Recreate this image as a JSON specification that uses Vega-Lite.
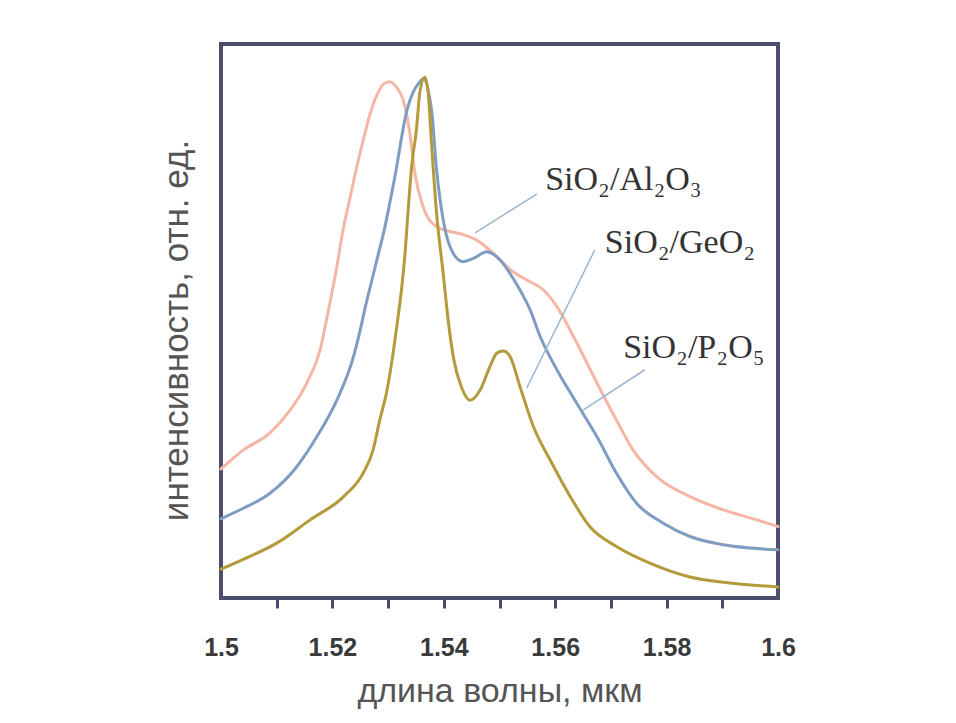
{
  "$schema": "https://vega.github.io/schema/vega-lite/v6.json",
  "autosize": {"type": "none"},
  "padding": {"left": 221, "top": 44, "right": 178, "bottom": 125},
  "width": 557,
  "height": 554,
  "background": "white",
  "datasets": {
    "curves": [
      {"s": "SiO2/Al2O3", "x": 1.5, "y": 23.3},
      {"s": "SiO2/Al2O3", "x": 1.504, "y": 26.7},
      {"s": "SiO2/Al2O3", "x": 1.5088, "y": 29.8},
      {"s": "SiO2/Al2O3", "x": 1.5124, "y": 33.9},
      {"s": "SiO2/Al2O3", "x": 1.5154, "y": 38.8},
      {"s": "SiO2/Al2O3", "x": 1.5178, "y": 44.8},
      {"s": "SiO2/Al2O3", "x": 1.5193, "y": 52.0},
      {"s": "SiO2/Al2O3", "x": 1.5208, "y": 59.8},
      {"s": "SiO2/Al2O3", "x": 1.5219, "y": 66.4},
      {"s": "SiO2/Al2O3", "x": 1.5232, "y": 72.4},
      {"s": "SiO2/Al2O3", "x": 1.5244, "y": 77.9},
      {"s": "SiO2/Al2O3", "x": 1.5255, "y": 82.5},
      {"s": "SiO2/Al2O3", "x": 1.5268, "y": 87.5},
      {"s": "SiO2/Al2O3", "x": 1.528, "y": 90.8},
      {"s": "SiO2/Al2O3", "x": 1.5292, "y": 92.8},
      {"s": "SiO2/Al2O3", "x": 1.5303, "y": 93.2},
      {"s": "SiO2/Al2O3", "x": 1.5315, "y": 92.2},
      {"s": "SiO2/Al2O3", "x": 1.5327, "y": 89.9},
      {"s": "SiO2/Al2O3", "x": 1.5339, "y": 83.9},
      {"s": "SiO2/Al2O3", "x": 1.5348, "y": 76.7},
      {"s": "SiO2/Al2O3", "x": 1.5363, "y": 70.6},
      {"s": "SiO2/Al2O3", "x": 1.5387, "y": 67.0},
      {"s": "SiO2/Al2O3", "x": 1.541, "y": 66.2},
      {"s": "SiO2/Al2O3", "x": 1.5435, "y": 65.6},
      {"s": "SiO2/Al2O3", "x": 1.5459, "y": 64.6},
      {"s": "SiO2/Al2O3", "x": 1.5489, "y": 62.2},
      {"s": "SiO2/Al2O3", "x": 1.552, "y": 59.2},
      {"s": "SiO2/Al2O3", "x": 1.5549, "y": 57.4},
      {"s": "SiO2/Al2O3", "x": 1.5579, "y": 55.6},
      {"s": "SiO2/Al2O3", "x": 1.5603, "y": 52.6},
      {"s": "SiO2/Al2O3", "x": 1.5639, "y": 46.0},
      {"s": "SiO2/Al2O3", "x": 1.5675, "y": 38.8},
      {"s": "SiO2/Al2O3", "x": 1.571, "y": 32.1},
      {"s": "SiO2/Al2O3", "x": 1.574, "y": 26.7},
      {"s": "SiO2/Al2O3", "x": 1.5782, "y": 21.9},
      {"s": "SiO2/Al2O3", "x": 1.5842, "y": 18.3},
      {"s": "SiO2/Al2O3", "x": 1.5902, "y": 15.9},
      {"s": "SiO2/Al2O3", "x": 1.5962, "y": 14.1},
      {"s": "SiO2/Al2O3", "x": 1.6, "y": 12.9},

      {"s": "SiO2/P2O5", "x": 1.5, "y": 14.3},
      {"s": "SiO2/P2O5", "x": 1.504, "y": 16.2},
      {"s": "SiO2/P2O5", "x": 1.5088, "y": 18.9},
      {"s": "SiO2/P2O5", "x": 1.5136, "y": 23.7},
      {"s": "SiO2/P2O5", "x": 1.5172, "y": 29.1},
      {"s": "SiO2/P2O5", "x": 1.5208, "y": 35.7},
      {"s": "SiO2/P2O5", "x": 1.5238, "y": 43.6},
      {"s": "SiO2/P2O5", "x": 1.525, "y": 48.4},
      {"s": "SiO2/P2O5", "x": 1.526, "y": 52.9},
      {"s": "SiO2/P2O5", "x": 1.5271, "y": 57.4},
      {"s": "SiO2/P2O5", "x": 1.5282, "y": 61.9},
      {"s": "SiO2/P2O5", "x": 1.5293, "y": 66.4},
      {"s": "SiO2/P2O5", "x": 1.5303, "y": 71.3},
      {"s": "SiO2/P2O5", "x": 1.5315, "y": 77.6},
      {"s": "SiO2/P2O5", "x": 1.5324, "y": 83.0},
      {"s": "SiO2/P2O5", "x": 1.5333, "y": 87.7},
      {"s": "SiO2/P2O5", "x": 1.5345, "y": 91.3},
      {"s": "SiO2/P2O5", "x": 1.5354, "y": 92.8},
      {"s": "SiO2/P2O5", "x": 1.5363, "y": 93.7},
      {"s": "SiO2/P2O5", "x": 1.5378, "y": 88.1},
      {"s": "SiO2/P2O5", "x": 1.5387, "y": 77.3},
      {"s": "SiO2/P2O5", "x": 1.5399, "y": 68.2},
      {"s": "SiO2/P2O5", "x": 1.5417, "y": 62.2},
      {"s": "SiO2/P2O5", "x": 1.5435, "y": 60.7},
      {"s": "SiO2/P2O5", "x": 1.5453, "y": 61.3},
      {"s": "SiO2/P2O5", "x": 1.5477, "y": 62.5},
      {"s": "SiO2/P2O5", "x": 1.5501, "y": 61.0},
      {"s": "SiO2/P2O5", "x": 1.5525, "y": 57.6},
      {"s": "SiO2/P2O5", "x": 1.554, "y": 55.0},
      {"s": "SiO2/P2O5", "x": 1.5555, "y": 52.0},
      {"s": "SiO2/P2O5", "x": 1.5573, "y": 47.2},
      {"s": "SiO2/P2O5", "x": 1.5603, "y": 41.2},
      {"s": "SiO2/P2O5", "x": 1.5639, "y": 35.1},
      {"s": "SiO2/P2O5", "x": 1.5675, "y": 29.1},
      {"s": "SiO2/P2O5", "x": 1.571, "y": 22.5},
      {"s": "SiO2/P2O5", "x": 1.5746, "y": 17.1},
      {"s": "SiO2/P2O5", "x": 1.5794, "y": 13.5},
      {"s": "SiO2/P2O5", "x": 1.5842, "y": 11.1},
      {"s": "SiO2/P2O5", "x": 1.5902, "y": 9.6},
      {"s": "SiO2/P2O5", "x": 1.6, "y": 8.7},

      {"s": "SiO2/GeO2", "x": 1.5, "y": 5.2},
      {"s": "SiO2/GeO2", "x": 1.5052, "y": 7.5},
      {"s": "SiO2/GeO2", "x": 1.51, "y": 9.9},
      {"s": "SiO2/GeO2", "x": 1.516, "y": 14.1},
      {"s": "SiO2/GeO2", "x": 1.522, "y": 18.3},
      {"s": "SiO2/GeO2", "x": 1.5255, "y": 22.5},
      {"s": "SiO2/GeO2", "x": 1.5273, "y": 26.7},
      {"s": "SiO2/GeO2", "x": 1.5285, "y": 32.1},
      {"s": "SiO2/GeO2", "x": 1.5297, "y": 37.0},
      {"s": "SiO2/GeO2", "x": 1.5309, "y": 44.2},
      {"s": "SiO2/GeO2", "x": 1.5316, "y": 49.3},
      {"s": "SiO2/GeO2", "x": 1.5324, "y": 55.6},
      {"s": "SiO2/GeO2", "x": 1.533, "y": 61.7},
      {"s": "SiO2/GeO2", "x": 1.5336, "y": 70.0},
      {"s": "SiO2/GeO2", "x": 1.5342, "y": 77.6},
      {"s": "SiO2/GeO2", "x": 1.5351, "y": 84.7},
      {"s": "SiO2/GeO2", "x": 1.5357, "y": 91.3},
      {"s": "SiO2/GeO2", "x": 1.5366, "y": 94.0},
      {"s": "SiO2/GeO2", "x": 1.5372, "y": 91.2},
      {"s": "SiO2/GeO2", "x": 1.5378, "y": 82.0},
      {"s": "SiO2/GeO2", "x": 1.5387, "y": 69.5},
      {"s": "SiO2/GeO2", "x": 1.5399, "y": 58.5},
      {"s": "SiO2/GeO2", "x": 1.5408, "y": 50.0},
      {"s": "SiO2/GeO2", "x": 1.5418, "y": 43.0},
      {"s": "SiO2/GeO2", "x": 1.5432, "y": 38.0},
      {"s": "SiO2/GeO2", "x": 1.5447, "y": 35.7},
      {"s": "SiO2/GeO2", "x": 1.5465, "y": 37.5},
      {"s": "SiO2/GeO2", "x": 1.5483, "y": 41.8},
      {"s": "SiO2/GeO2", "x": 1.5495, "y": 44.2},
      {"s": "SiO2/GeO2", "x": 1.5507, "y": 44.6},
      {"s": "SiO2/GeO2", "x": 1.5519, "y": 43.6},
      {"s": "SiO2/GeO2", "x": 1.5537, "y": 38.1},
      {"s": "SiO2/GeO2", "x": 1.5561, "y": 30.9},
      {"s": "SiO2/GeO2", "x": 1.5591, "y": 24.9},
      {"s": "SiO2/GeO2", "x": 1.5627, "y": 18.3},
      {"s": "SiO2/GeO2", "x": 1.5662, "y": 12.9},
      {"s": "SiO2/GeO2", "x": 1.571, "y": 9.3},
      {"s": "SiO2/GeO2", "x": 1.577, "y": 6.3},
      {"s": "SiO2/GeO2", "x": 1.5842, "y": 3.8},
      {"s": "SiO2/GeO2", "x": 1.5914, "y": 2.7},
      {"s": "SiO2/GeO2", "x": 1.6, "y": 2.0}
    ],
    "labels": [
      {"text": "SiO₂/Al₂O₃", "x": 1.5582, "y": 73.6, "x1": 1.5567, "y1": 72.9, "x2": 1.5456, "y2": 65.9},
      {"text": "SiO₂/GeO₂", "x": 1.5689, "y": 62.3, "x1": 1.5671, "y1": 62.8, "x2": 1.5549, "y2": 37.9},
      {"text": "SiO₂/P₂O₅", "x": 1.5722, "y": 43.3, "x1": 1.5761, "y1": 41.2, "x2": 1.565, "y2": 33.9}
    ]
  },
  "layer": [
    {
      "data": {"name": "curves"},
      "mark": {"type": "line", "interpolate": "monotone", "strokeWidth": 3, "strokeJoin": "round", "strokeCap": "round"},
      "encoding": {
        "x": {
          "field": "x", "type": "quantitative",
          "scale": {"domain": [1.5, 1.6], "nice": false, "zero": false},
          "axis": {
            "values": [1.5, 1.51, 1.52, 1.53, 1.54, 1.55, 1.56, 1.57, 1.58, 1.59, 1.6],
            "format": "~g",
            "labelExpr": "abs(round(datum.value * 100)) % 2 == 0 ? datum.label : ''",
            "labelFlush": false,
            "labelOverlap": false,
            "domain": false,
            "grid": false,
            "tickSize": 10,
            "tickWidth": 3,
            "tickColor": "#4b4d6a",
            "tickOpacity": {"condition": {"test": "datum.value < 1.505 || datum.value > 1.595", "value": 0}, "value": 1},
            "labelFont": "Liberation Sans",
            "labelFontWeight": "bold",
            "labelFontSize": 25,
            "labelColor": "#3a3a3a",
            "labelPadding": 27,
            "title": "длина волны, мкм",
            "titleFont": "Liberation Sans",
            "titleFontSize": 34,
            "titleFontWeight": "normal",
            "titleColor": "#555555",
            "titlePadding": 14
          }
        },
        "y": {
          "field": "y", "type": "quantitative",
          "scale": {"domain": [0, 100], "nice": false},
          "axis": {
            "labels": false,
            "ticks": false,
            "domain": false,
            "grid": false,
            "title": "интенсивность, отн. ед.",
            "titleFont": "Liberation Sans",
            "titleFontSize": 35,
            "titleFontWeight": "normal",
            "titleColor": "#555555",
            "titlePadding": 27,
            "titleY": 286
          }
        },
        "color": {
          "field": "s", "type": "nominal",
          "scale": {"domain": ["SiO2/Al2O3", "SiO2/P2O5", "SiO2/GeO2"], "range": ["#f5b6a6", "#7f9dc2", "#b39a3a"]},
          "legend": null
        }
      }
    },
    {
      "data": {"name": "labels"},
      "mark": {"type": "rule", "color": "#9bb5d0", "strokeWidth": 1.5},
      "encoding": {
        "x": {"field": "x1", "type": "quantitative"},
        "y": {"field": "y1", "type": "quantitative"},
        "x2": {"field": "x2"},
        "y2": {"field": "y2"}
      }
    },
    {
      "data": {"name": "labels"},
      "mark": {"type": "text", "align": "left", "baseline": "alphabetic", "font": "Liberation Serif", "fontSize": 34, "color": "#333333"},
      "encoding": {
        "x": {"field": "x", "type": "quantitative"},
        "y": {"field": "y", "type": "quantitative"},
        "text": {"field": "text"}
      }
    }
  ],
  "config": {
    "view": {"stroke": "#4b4d6a", "strokeWidth": 4}
  }
}
